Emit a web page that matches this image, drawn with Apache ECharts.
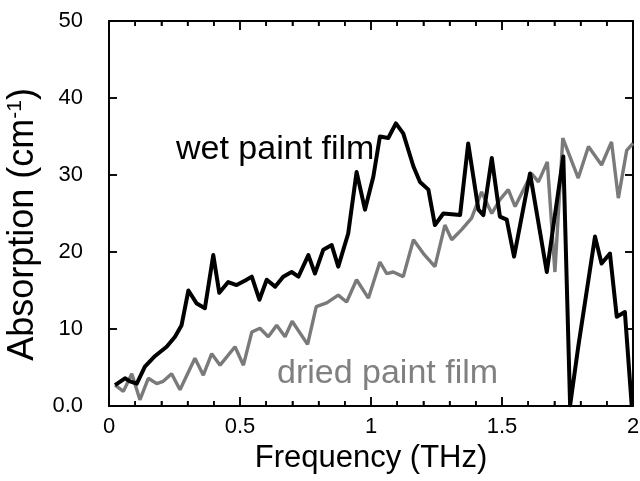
<!DOCTYPE html>
<html>
<head>
<meta charset="utf-8">
<script src="https://cdn.jsdelivr.net/npm/echarts@6/dist/echarts.min.js"></script>
<style>
html,body{margin:0;padding:0;background:#fff;width:640px;height:481px;overflow:hidden;position:relative}
#c{position:absolute;left:-40px;top:-40px;width:720px;height:561px}
</style>
</head>
<body>
<div id="c"></div>
<script>
// Wet paint film: [frequency THz, absorption cm^-1]
const wetFreq = [0.023,0.061,0.08,0.106,0.137,0.176,0.22,0.252,0.277,0.303,0.335,0.366,0.398,0.421,0.455,0.487,0.52,0.545,0.574,0.602,0.634,0.665,0.697,0.723,0.761,0.786,0.818,0.85,0.875,0.913,0.945,0.977,1.009,1.034,1.066,1.095,1.123,1.162,1.187,1.219,1.244,1.276,1.34,1.371,1.41,1.429,1.461,1.492,1.518,1.546,1.607,1.671,1.734,1.76,1.791,1.855,1.88,1.912,1.938,1.969,1.995];
const wetAbs  = [2.7,3.6,3.2,2.9,5.1,6.5,7.7,9.0,10.5,15.0,13.3,12.7,19.6,14.7,16.1,15.7,16.3,16.8,13.8,16.4,15.5,16.8,17.4,16.8,19.6,17.2,20.3,20.9,18.1,22.4,30.4,25.5,29.8,35.0,34.8,36.7,35.4,31.1,29.1,28.1,23.5,25.0,24.8,34.1,25.5,24.8,32.2,24.6,24.2,19.4,30.2,17.4,32.4,0.1,7.7,22.0,18.5,19.8,11.6,12.2,0.1];
// Dried paint film
const dryFreq = [0.023,0.055,0.087,0.118,0.15,0.182,0.207,0.239,0.271,0.328,0.36,0.392,0.424,0.481,0.513,0.545,0.576,0.608,0.64,0.672,0.699,0.758,0.791,0.831,0.875,0.907,0.945,0.99,1.034,1.06,1.085,1.123,1.162,1.2,1.244,1.282,1.308,1.346,1.384,1.422,1.461,1.492,1.524,1.55,1.613,1.639,1.673,1.702,1.732,1.791,1.83,1.88,1.918,1.944,1.976,2.0];
const dryAbs  = [2.7,1.9,4.2,0.8,3.6,2.9,3.2,4.2,2.1,6.2,4.0,6.8,5.3,7.7,5.3,9.6,10.1,9.0,10.5,9.0,11.0,8.0,12.9,13.4,14.4,13.5,16.4,14.0,18.7,17.2,17.4,16.8,21.6,19.8,18.1,23.5,21.6,22.9,24.4,27.8,25.0,26.8,28.1,25.9,30.2,29.1,31.7,17.4,34.8,29.6,33.7,31.3,34.3,27.0,33.2,34.1];
const xTicks = [0, 0.5, 1, 1.5, 2];
const xMinorTicks = [0.1, 0.2, 0.3, 0.4, 0.6, 0.7, 0.8, 0.9, 1.1, 1.2, 1.3, 1.4, 1.6, 1.7, 1.8, 1.9];
const yTicks = [0, 10, 20, 30, 40, 50];

const wet = wetFreq.map((f, i) => [f, wetAbs[i]]);
const dry = dryFreq.map((f, i) => [f, dryAbs[i]]);

const FONT = 'Liberation Sans, Arial, Helvetica, sans-serif';
const chart = echarts.init(document.getElementById('c'));

function ls(w) { return {color: '#000', width: w}; }

// Frame with inward ticks on all four sides, placed through the axis scales
function renderFrame(params, api) {
  const tl = api.coord([xTicks[0], yTicks[yTicks.length - 1]]);
  const br = api.coord([xTicks[xTicks.length - 1], yTicks[0]]);
  const x0 = tl[0], y0 = tl[1], x1 = br[0], y1 = br[1];
  const st = {stroke: '#000', lineWidth: 1.5};
  const kids = [{type: 'rect', shape: {x: x0, y: y0, width: x1 - x0, height: y1 - y0},
    style: {fill: 'transparent', stroke: '#000', lineWidth: 1.5}}];
  const addX = (v, len) => {
    const x = api.coord([v, 0])[0];
    kids.push({type: 'line', shape: {x1: x, y1: y1, x2: x, y2: y1 - len}, style: st});
    kids.push({type: 'line', shape: {x1: x, y1: y0, x2: x, y2: y0 + len}, style: st});
  };
  xTicks.forEach(v => addX(v, 9));
  xMinorTicks.forEach(v => addX(v, 5));
  yTicks.forEach(v => {
    const y = api.coord([0, v])[1];
    kids.push({type: 'line', shape: {x1: x0, y1: y, x2: x0 + 8, y2: y}, style: st});
    kids.push({type: 'line', shape: {x1: x1, y1: y, x2: x1 - 8, y2: y}, style: st});
  });
  return {type: 'group', children: kids};
}

chart.setOption({
  animation: false,
  grid: {left: 149, right: 47, top: 61, bottom: 115, show: true, borderColor: '#000', borderWidth: 1.5},
  xAxis: [
    {
      type: 'value', min: 0, max: 2, interval: 0.5, position: 'bottom',
      axisLine: {show: true, onZero: false, lineStyle: ls(1.5)},
      axisTick: {show: true, inside: true, length: 9, lineStyle: ls(1.5)},
      minorTick: {show: true, splitNumber: 5, length: 5, lineStyle: ls(1.5)},
      splitLine: {show: false},
      axisLabel: {show: true, color: '#000', fontSize: 22, fontFamily: FONT, margin: 10,
        formatter: v => xTicks.includes(v) ? String(v) : ''},
      name: 'Frequency (THz)', nameLocation: 'middle', nameGap: 31,
      nameTextStyle: {color: '#000', fontSize: 31, fontFamily: FONT}
    },
    {
      type: 'value', min: 0, max: 2, interval: 0.5, position: 'top',
      axisLine: {show: true, onZero: false, lineStyle: ls(1.5)},
      axisTick: {show: true, inside: true, length: 9, lineStyle: ls(1.5)},
      minorTick: {show: true, splitNumber: 5, length: 5, lineStyle: ls(1.5)},
      splitLine: {show: false},
      axisLabel: {show: false}
    }
  ],
  yAxis: [
    {
      type: 'value', min: 0, max: 50, interval: 10, position: 'left',
      axisLine: {show: true, onZero: false, lineStyle: ls(1.5)},
      axisTick: {show: true, inside: true, length: 8, lineStyle: ls(1.5)},
      splitLine: {show: false},
      axisLabel: {show: true, color: '#000', fontSize: 22, fontFamily: FONT, margin: 26,
        formatter: v => yTicks.includes(v) ? (v === 0 ? '0.0' : String(v)) : ''},
      name: 'Absorption (cm{sup|-1})', nameLocation: 'middle', nameGap: 65,
      nameTextStyle: {color: '#000', fontSize: 36, fontFamily: FONT, padding: [0, 22, 0, 0],
        rich: {sup: {fontSize: 21, verticalAlign: 'top', padding: [0, 0, 17, 0], fontFamily: FONT, color: '#000'}}}
    },
    {
      type: 'value', min: 0, max: 50, interval: 10, position: 'right',
      axisLine: {show: true, onZero: false, lineStyle: ls(1.5)},
      axisTick: {show: true, inside: true, length: 8, lineStyle: ls(1.5)},
      splitLine: {show: false},
      axisLabel: {show: false}
    }
  ],
  series: [
    {
      name: 'frame', type: 'custom', renderItem: renderFrame, data: [[0, 0]],
      xAxisIndex: 0, yAxisIndex: 0, clip: false, silent: true, z: 1
    },
    {
      name: 'dried paint film', type: 'line', data: dry, xAxisIndex: 0, yAxisIndex: 0,
      showSymbol: false, smooth: false,
      lineStyle: {color: '#7a7a7a', width: 3.4},
      z: 2
    },
    {
      name: 'wet paint film', type: 'line', data: wet, xAxisIndex: 0, yAxisIndex: 0,
      showSymbol: false, smooth: false,
      lineStyle: {color: '#000', width: 4, join: 'round'},
      z: 3
    }
  ],
  graphic: [
    {type: 'text', left: 216, top: 173, style: {text: 'wet paint film', fontSize: 34, fontFamily: FONT, fill: '#000'}},
    {type: 'text', left: 317, top: 397, style: {text: 'dried paint film', fontSize: 34, fontFamily: FONT, fill: '#808080'}}
  ]
});
</script>
</body>
</html>
